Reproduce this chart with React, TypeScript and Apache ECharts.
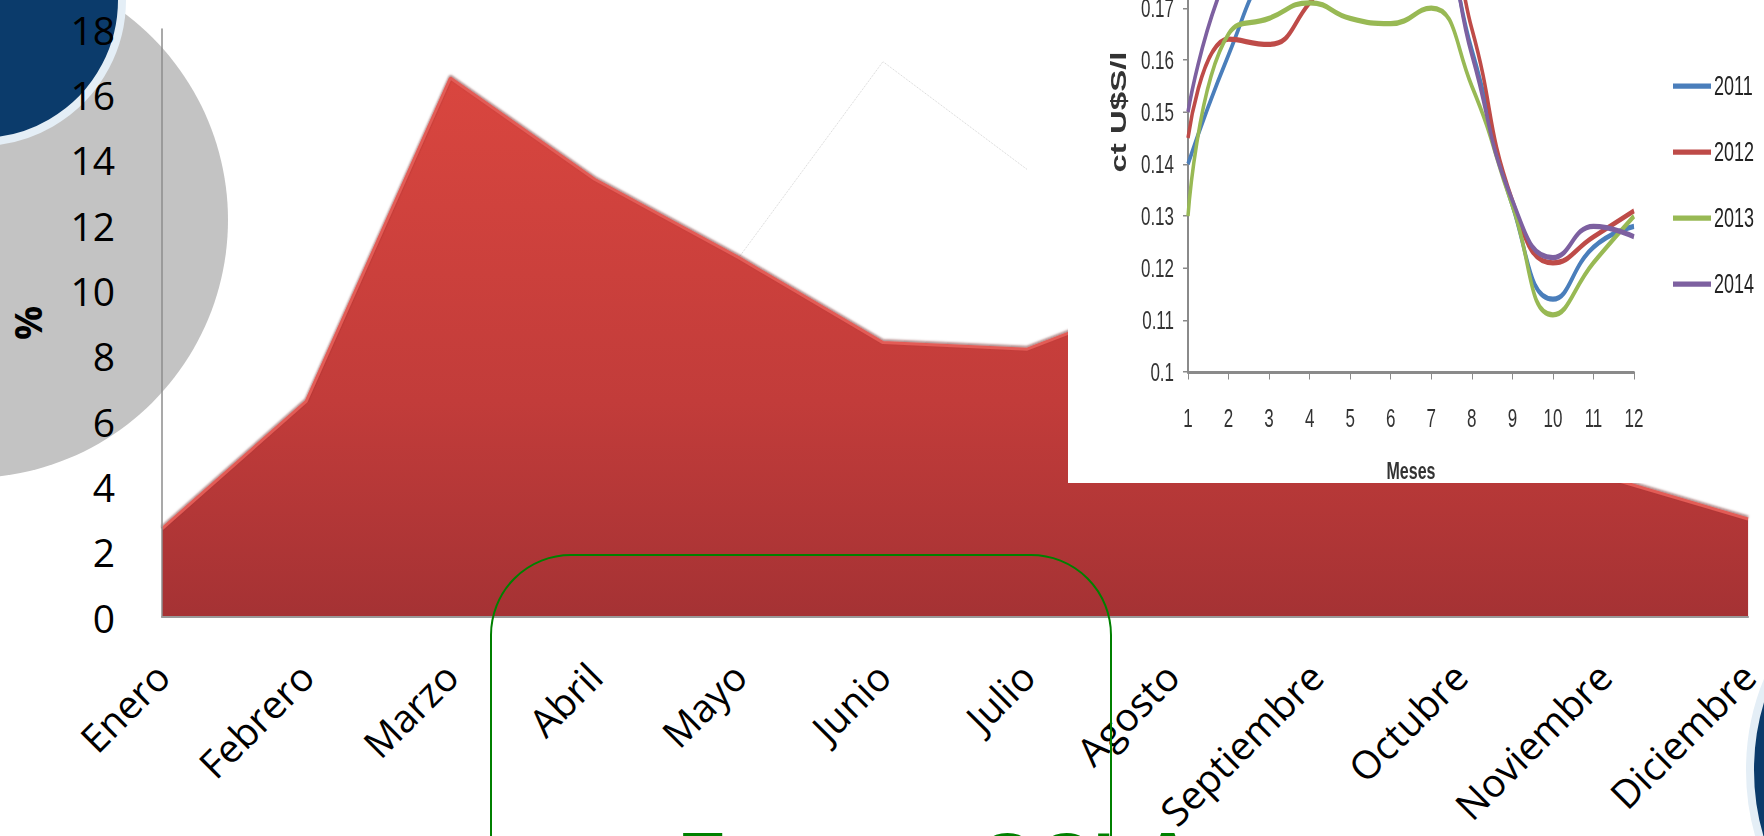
import React, { useEffect, useRef } from 'react';
import * as echarts from 'echarts';

// ---- Main chart data ----
const months = ['Enero', 'Febrero', 'Marzo', 'Abril', 'Mayo', 'Junio', 'Julio', 'Agosto', 'Septiembre', 'Octubre', 'Noviembre', 'Diciembre'];
const pctValues = [2.7, 6.6, 16.5, 13.4, 11.0, 8.4, 8.2, 9.9, 9.6, 7.1, 4.3, 3.0];
const ghostValues = [null, null, null, null, 11.0, 17.0, 13.7, null, null, null, null, null];
const pctMin = 0;
const pctMax = 18;
const pctInterval = 2;

// ---- Inset chart data ----
const monthNumbers = ['1', '2', '3', '4', '5', '6', '7', '8', '9', '10', '11', '12'];
const years = ['2011', '2012', '2013', '2014'];
const price2011 = [0.140, 0.161, 0.178, 0.184, 0.186, 0.187, 0.185, 0.162, 0.132, 0.114, 0.124, 0.128];
const price2012 = [0.145, 0.164, 0.163, 0.171, 0.182, 0.188, 0.190, 0.166, 0.133, 0.121, 0.126, 0.131];
const price2013 = [0.130, 0.165, 0.168, 0.171, 0.168, 0.167, 0.170, 0.155, 0.132, 0.111, 0.121, 0.130];
const price2014 = [0.150, 0.177, 0.185, 0.188, 0.190, 0.190, 0.188, 0.161, 0.133, 0.122, 0.128, 0.126];
const priceMin = 0.1;
const priceMax = 0.2;
const priceInterval = 0.01;
const yearColors = ['#4a7ebb', '#be4b48', '#98b954', '#7d60a0'];

const sourceText = 'Fuente: OCLA';

const insetFont = "'Liberation Sans', Arial, sans-serif";
// the inset is a picture stretched vertically in the reference
const insetStretch = 1.5;

export default function App() {
  const mainRef = useRef<HTMLDivElement>(null);
  const insetRef = useRef<HTMLDivElement>(null);

  useEffect(() => {
    if (!mainRef.current || !insetRef.current) return;
    const main = echarts.init(mainRef.current, undefined, { renderer: 'svg' });
    const inset = echarts.init(insetRef.current, undefined, { renderer: 'svg' });

    main.setOption({
      animation: false,
      backgroundColor: 'transparent',
      grid: { left: 160, right: 3, top: 29, bottom: 219, containLabel: false },
      xAxis: {
        type: 'category',
        data: months,
        boundaryGap: false,
        axisLine: { lineStyle: { color: '#9a9a9a', width: 2 } },
        axisTick: { show: false },
        axisLabel: {
          rotate: 45,
          interval: 0,
          fontSize: 39,
          fontFamily: 'Open Sans',
          color: '#000',
          margin: 52,
        },
        z: 3,
      },
      yAxis: {
        type: 'value',
        min: pctMin,
        max: pctMax,
        interval: pctInterval,
        axisLine: { show: true, lineStyle: { color: '#8c8c8c', width: 1.5 } },
        axisTick: { show: false },
        splitLine: { show: false },
        axisLabel: { fontSize: 39, fontFamily: 'Open Sans', color: '#000', margin: 47 },
        name: '%',
        nameLocation: 'middle',
        nameRotate: 90,
        nameGap: 116,
        nameTextStyle: { fontSize: 38, fontWeight: 'bold', fontFamily: 'Open Sans', color: '#000' },
        z: 3,
      },
      series: [
        {
          type: 'line',
          data: pctValues,
          symbol: 'none',
          z: 2,
          lineStyle: {
            color: '#e35b56',
            width: 3,
            shadowColor: 'rgba(90,20,20,0.6)',
            shadowBlur: 2,
            shadowOffsetY: -1.5,
          },
          areaStyle: {
            opacity: 1,
            color: new echarts.graphic.LinearGradient(0, 0, 0, 1, [
              { offset: 0, color: '#d9463f' },
              { offset: 0.6, color: '#c23c3a' },
              { offset: 1, color: '#a53234' },
            ]),
          },
        },
        {
          type: 'line',
          data: ghostValues,
          symbol: 'none',
          z: 1,
          lineStyle: { color: '#d4d4d4', width: 1, type: 'dotted' },
        },
      ],
      graphic: [
        { type: 'circle', z: -10, shape: { cx: -30, cy: 220, r: 258 }, style: { fill: '#c3c3c3' } },
        { type: 'circle', z: -9, shape: { cx: -20, cy: 0, r: 142 }, style: { fill: '#0b3b6b', stroke: '#e4eef6', lineWidth: 8 } },
        { type: 'circle', z: -9, shape: { cx: 1985, cy: 770, r: 235 }, style: { fill: '#0b3b6b', stroke: '#e4eef6', lineWidth: 8 } },
        {
          type: 'rect',
          z: 100,
          shape: { x: 491, y: 555, width: 620, height: 420, r: 80 },
          style: { fill: 'none', stroke: '#008000', lineWidth: 2 },
        },
        {
          type: 'text',
          z: 100,
          x: 678,
          y: 821,
          style: {
            text: sourceText,
            fontSize: 77,
            fontWeight: 'bold',
            fontFamily: 'Liberation Sans',
            fill: '#008000',
            verticalAlign: 'top',
          },
        },
      ],
    });

    const yearSeries = [price2011, price2012, price2013, price2014];
    inset.setOption({
      animation: false,
      backgroundColor: '#ffffff',
      grid: { left: 120, right: 130, top: 10, bottom: 83.33, containLabel: false },
      legend: {
        orient: 'vertical',
        left: 600,
        top: 152,
        itemGap: 26,
        icon: 'rect',
        itemWidth: 38,
        itemHeight: 3.5,
        data: years,
        textStyle: { fontSize: 18, fontFamily: insetFont, color: '#222', padding: [0, 0, 0, -2] },
      },
      xAxis: {
        type: 'category',
        data: monthNumbers,
        boundaryGap: false,
        axisLine: { lineStyle: { color: '#8a8a8a', width: 2 } },
        axisTick: { show: true, length: 5, lineStyle: { color: '#8a8a8a' } },
        axisLabel: { fontSize: 17, fontFamily: insetFont, color: '#333', margin: 22, interval: 0 },
        name: 'Meses',
        nameLocation: 'middle',
        nameGap: 58,
        nameTextStyle: { fontSize: 16, fontWeight: 'bold', fontFamily: insetFont, color: '#333' },
      },
      yAxis: {
        type: 'value',
        min: priceMin,
        max: priceMax,
        interval: priceInterval,
        axisLine: { show: true, lineStyle: { color: '#8a8a8a', width: 2 } },
        axisTick: { show: true, length: 5, lineStyle: { color: '#8a8a8a' } },
        splitLine: { show: false },
        axisLabel: {
          fontSize: 17,
          fontFamily: insetFont,
          color: '#333',
          margin: 14,
          formatter: (v: number) => (v > 0.175 ? '' : String(Math.round(v * 100) / 100)),
        },
        name: 'ct U$S/l',
        nameLocation: 'middle',
        nameRotate: 90,
        nameGap: 40,
        nameTextStyle: { fontSize: 22, fontWeight: 'bold', fontFamily: insetFont, color: '#333' },
      },
      series: years.map((y, i) => ({
        name: y,
        type: 'line',
        data: yearSeries[i],
        smooth: true,
        symbol: 'none',
        itemStyle: { color: yearColors[i] },
        lineStyle: { color: yearColors[i], width: 3.5 },
      })),
    });

    return () => {
      main.dispose();
      inset.dispose();
    };
  }, []);

  return (
    <div style={{ position: 'fixed', left: 0, top: 0, width: 1764, height: 836, overflow: 'hidden', background: '#fff' }}>
      <div ref={mainRef} style={{ position: 'absolute', left: 0, top: 0, width: 1764, height: 836 }} />
      <div style={{ position: 'absolute', left: 1068, top: 0, width: 696, height: 483, overflow: 'hidden', background: '#fff' }}>
        <div
          ref={insetRef}
          style={{
            position: 'absolute',
            left: 0,
            top: -163,
            width: 696,
            height: 440,
            transform: `scaleY(${insetStretch})`,
            transformOrigin: '0 0',
          }}
        />
      </div>
    </div>
  );
}
